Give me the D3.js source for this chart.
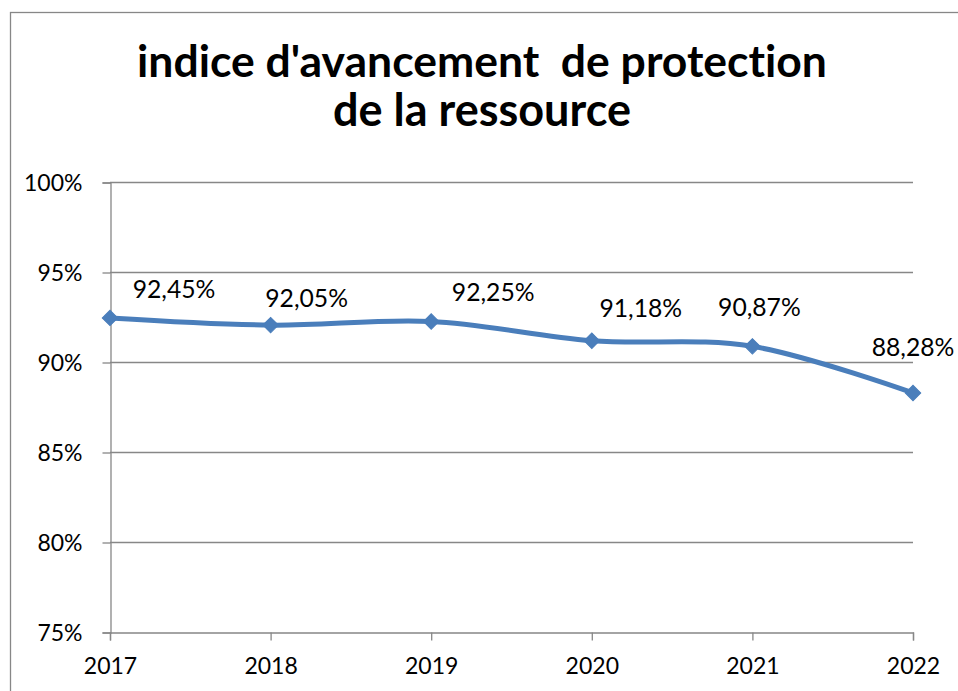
<!DOCTYPE html>
<html>
<head>
<meta charset="utf-8">
<script src="https://cdn.jsdelivr.net/npm/d3@7"></script>
<style>
  body { margin: 0; background: #fff; }
  svg { display: block; }
  text { font-family: Lato, "Open Sans", sans-serif; fill: #000; font-variant-ligatures: none; }
</style>
</head>
<body>
<div id="main"></div>
<script>
// data
const years = [2017, 2018, 2019, 2020, 2021, 2022];
const values = [92.45, 92.05, 92.25, 91.18, 90.87, 88.28];
const yTicks = [75, 80, 85, 90, 95, 100];
const titleLines = ["indice d'avancement\u00a0 de protection", "de la ressource"];

// layout
const ctx = {
    w: 958,
    h: 691,
    left: 110,
    right: 913,
    top: 182,
    bottom: 632,
    grid: "#878787",
    blue: "#4A7EBB",
    titleCx: 482,
    titleWidths: [690, 298],
    titleBase: [77, 126],
    axisFont: "23px",
    labelFont: "24.7px",
};
// label offsets (dx from point, baseline dy from point), as placed in the original
const labelOffsets = [[64, -20], [36, -18], [62, -21], [49, -24], [7, -30], [0, -37]];

const svg = d3.select("#main").append("svg")
    .attr("width", ctx.w)
    .attr("height", ctx.h);

svg.append("rect")
    .attr("width", ctx.w).attr("height", ctx.h).attr("fill", "#fff");

// outer chart frame (continues past the window)
svg.append("rect")
    .attr("x", 10.5).attr("y", 12.5)
    .attr("width", 1200).attr("height", 1200)
    .attr("fill", "none")
    .attr("stroke", ctx.grid)
    .attr("stroke-width", 1.3);

const x = d3.scalePoint().domain(years).range([ctx.left, ctx.right]);
const y = d3.scaleLinear().domain([75, 100]).range([ctx.bottom, ctx.top]);

// title
titleLines.forEach(function(line, i){
    const t = svg.append("text")
        .attr("x", ctx.titleCx)
        .attr("y", ctx.titleBase[i])
        .attr("text-anchor", "middle")
        .style("font-weight", "bold")
        .style("font-size", "40px")
        .text(line);
    const len = t.node().getComputedTextLength();
    t.style("font-size", (40 * ctx.titleWidths[i] / len) + "px");
});

// gridlines
svg.append("g").selectAll("line")
    .data(yTicks.filter(d => d > 75))
    .enter().append("line")
    .attr("x1", ctx.left).attr("x2", ctx.right)
    .attr("y1", d => y(d) + 0.5).attr("y2", d => y(d) + 0.5)
    .attr("stroke", ctx.grid).attr("stroke-width", 1.3);

// y axis
const yAxis = svg.append("g")
    .attr("transform", "translate(" + (ctx.left + 0.5) + ",0.5)")
    .call(d3.axisLeft(y).tickValues(yTicks).tickSize(8).tickPadding(20)
        .tickFormat(d => d + "%"));
yAxis.select(".domain").attr("stroke", ctx.grid).attr("stroke-width", 1.3);
yAxis.selectAll(".tick line").attr("stroke", ctx.grid).attr("stroke-width", 1.3);
yAxis.selectAll(".tick text")
    .style("font-size", ctx.axisFont)
    .style("font-family", "Lato, sans-serif")
    .attr("fill", "#000")
    .attr("dy", "0.36em");

// x axis
const xAxis = svg.append("g")
    .attr("transform", "translate(0," + (ctx.bottom + 0.5) + ")")
    .call(d3.axisBottom(x).tickSize(8).tickPadding(20));
xAxis.select(".domain").attr("stroke", ctx.grid).attr("stroke-width", 1.3);
xAxis.selectAll(".tick line").attr("stroke", ctx.grid).attr("stroke-width", 1.3);
xAxis.selectAll(".tick text")
    .style("font-size", ctx.axisFont)
    .style("font-family", "Lato, sans-serif")
    .attr("fill", "#000")
    .attr("dy", "0.58em");

const points = years.map((yr, i) => ({year: yr, value: values[i], off: labelOffsets[i]}));

// smoothed line
const line = d3.line()
    .x(d => x(d.year))
    .y(d => y(d.value))
    .curve(d3.curveCardinal.tension(0));

svg.append("path")
    .datum(points)
    .attr("d", line)
    .attr("fill", "none")
    .attr("stroke", ctx.blue)
    .attr("stroke-width", 5)
    .attr("stroke-linejoin", "round");

// diamond markers
svg.append("g").selectAll("path")
    .data(points)
    .enter().append("path")
    .attr("d", d3.symbol().type(d3.symbolSquare).size(120))
    .attr("transform", d => "translate(" + x(d.year) + "," + y(d.value) + ") rotate(45)")
    .attr("fill", ctx.blue)
    .attr("stroke", ctx.blue)
    .attr("stroke-width", 1);

// data labels
const fmt = d => d.toFixed(2).replace(".", ",") + "%";
svg.append("g").selectAll("text")
    .data(points)
    .enter().append("text")
    .attr("x", d => x(d.year) + d.off[0])
    .attr("y", d => y(d.value) + d.off[1])
    .attr("text-anchor", "middle")
    .style("font-size", ctx.labelFont)
    .text(d => fmt(d.value));
</script>
</body>
</html>
